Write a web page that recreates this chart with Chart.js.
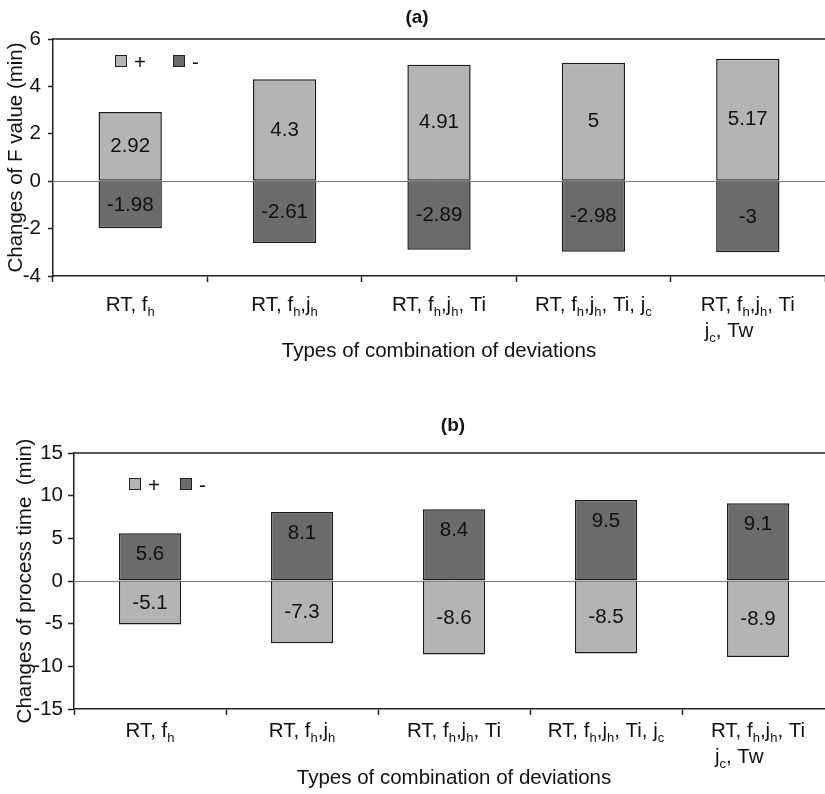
<!DOCTYPE html>
<html>
<head>
<meta charset="utf-8">
<script src="https://cdn.jsdelivr.net/npm/chart.js@4.4.0/dist/chart.umd.min.js"></script>
<style>
  html, body { margin: 0; padding: 0; background: #fff; overflow: hidden; }
  body { width: 825px; height: 794px; position: relative; }
  #boxA { position: absolute; left: 0; top: 0; width: 825px; height: 395px; }
  #boxB { position: absolute; left: 0; top: 395px; width: 840px; height: 399px; }
</style>
</head>
<body>
<div id="boxA"><canvas id="chartF"></canvas></div>
<div id="boxB"><canvas id="chartTime"></canvas></div>
<script>
// combinations of deviations, "_x" marks a subscript letter
const combos = [
  ['RT, f_h'],
  ['RT, f_h,j_h'],
  ['RT, f_h,j_h, Ti'],
  ['RT, f_h,j_h, Ti, j_c'],
  ['RT, f_h,j_h, Ti', 'j_c, Tw']
];

// (a) changes of F value (min)
const fPlus = [2.92, 4.3, 4.91, 5, 5.17];
const fMinus = [-1.98, -2.61, -2.89, -2.98, -3];

// (b) changes of process time (min)
const timePlus = [-5.1, -7.3, -8.6, -8.5, -8.9];
const timeMinus = [5.6, 8.1, 8.4, 9.5, 9.1];

const legendNames = ['+', '-'];
const LIGHT = '#b4b4b4';
const DARK = '#6b6b6b';
const INK = '#111';
const FONT = "'Liberation Sans', Arial, sans-serif";
const SIZE = 20.5;

Chart.defaults.font.family = FONT;
Chart.defaults.color = INK;

// draws "RT, f_h" style text with small lowered letters
function drawRich(ctx, text, x, y) {
  const parts = text.split(/_(\w)/);
  let cx = x;
  parts.forEach((p, i) => {
    const sub = i % 2 === 1;
    ctx.font = (sub ? 13 : SIZE) + 'px ' + FONT;
    ctx.fillText(p, cx, sub ? y + 7 : y);
    cx += ctx.measureText(p).width;
  });
}
function richWidth(ctx, text) {
  const parts = text.split(/_(\w)/);
  let w = 0;
  parts.forEach((p, i) => {
    ctx.font = (i % 2 === 1 ? 13 : SIZE) + 'px ' + FONT;
    w += ctx.measureText(p).width;
  });
  return w;
}

const panelDecor = {
  id: 'panelDecor',
  afterDraw(chart, args, opts) {
    const ctx = chart.ctx;
    const area = chart.chartArea;
    const xs = chart.scales.x;
    ctx.save();

    // frame line along the top of the plot
    ctx.strokeStyle = '#222';
    ctx.lineWidth = 1.5;
    ctx.beginPath();
    ctx.moveTo(area.left, area.top);
    ctx.lineTo(area.right, area.top);
    ctx.stroke();

    // panel title
    ctx.font = 'bold 19px ' + FONT;
    ctx.fillStyle = INK;
    ctx.textAlign = 'center';
    ctx.textBaseline = 'middle';
    ctx.fillText(opts.title, (area.left + area.right) / 2 + opts.titleDx, area.top + opts.titleDy);

    // legend inside the plot
    const ly = area.top + opts.legendY;
    chart.data.datasets.forEach((ds, i) => {
      const sx = area.left + opts.legendX + i * opts.legendGap;
      ctx.fillStyle = ds.backgroundColor;
      ctx.fillRect(sx, ly - 6, 12, 12);
      ctx.strokeStyle = '#222';
      ctx.lineWidth = 1;
      ctx.strokeRect(sx + 0.5, ly - 5.5, 11, 11);
      ctx.fillStyle = INK;
      ctx.font = SIZE + 'px ' + FONT;
      ctx.textAlign = 'left';
      ctx.fillText(ds.label, sx + 19, ly + 2);
    });

    // value labels on the bars
    ctx.font = SIZE + 'px ' + FONT;
    ctx.textAlign = 'center';
    ctx.textBaseline = 'middle';
    chart.data.datasets.forEach((ds, i) => {
      chart.getDatasetMeta(i).data.forEach((bar, j) => {
        const y = ds.valueAt === 'top' ? bar.y + 21 : (bar.y + bar.base) / 2;
        ctx.fillText(String(ds.data[j]), bar.x, y);
      });
    });

    // category labels with subscripts
    ctx.textAlign = 'left';
    ctx.textBaseline = 'middle';
    combos.forEach((lines, j) => {
      const cx = xs.getPixelForValue(j);
      const w = richWidth(ctx, lines[0]);
      const x0 = cx - w / 2;
      lines.forEach((line, k) => {
        drawRich(ctx, line, x0 + (k ? 4 : 0), area.bottom + opts.labelY + k * 26);
      });
    });
    ctx.restore();
  }
};

function makePanel(canvasId, plus, minus, cfg) {
  const ctx = document.getElementById(canvasId).getContext('2d');
  // the upward bar keeps its edge on the zero line, the downward one skips it
  const barStyle = values => ({
    borderColor: '#1a1a1a',
    borderWidth: 1.5,
    borderSkipped: values[0] > 0 ? false : 'start',
    barPercentage: 0.41,
    categoryPercentage: 1
  });
  const dsPlus = Object.assign({
    label: legendNames[0],
    data: plus,
    backgroundColor: LIGHT,
    valueAt: cfg.plusAt
  }, barStyle(plus));
  const dsMinus = Object.assign({
    label: legendNames[1],
    data: minus,
    backgroundColor: DARK,
    valueAt: cfg.minusAt
  }, barStyle(minus));

  return new Chart(ctx, {
    type: 'bar',
    data: {
      labels: combos.map(l => l.join(' ').replace(/_/g, '')),
      datasets: [dsPlus, dsMinus]
    },
    options: {
      responsive: true,
      maintainAspectRatio: false,
      animation: false,
      layout: { padding: { top: cfg.top, right: cfg.right, left: 0, bottom: 0 } },
      plugins: {
        legend: { display: false },
        tooltip: { enabled: false },
        panelDecor: cfg.decor
      },
      scales: {
        x: {
          stacked: true,
          afterFit: s => { s.height = cfg.xHeight; },
          ticks: { display: false },
          grid: {
            offset: true,
            drawOnChartArea: false,
            tickLength: 6,
            tickColor: '#222',
            tickWidth: 1.5
          },
          border: { color: '#222', width: 1.5 },
          title: {
            display: true,
            text: 'Types of combination of deviations',
            font: { size: SIZE },
            color: INK,
            padding: { top: 0, bottom: cfg.xTitlePad }
          }
        },
        y: {
          stacked: true,
          min: cfg.min,
          max: cfg.max,
          afterFit: s => { s.width = cfg.yWidth; },
          ticks: {
            stepSize: cfg.step,
            font: { size: SIZE },
            color: INK,
            padding: cfg.tickPad
          },
          grid: {
            drawOnChartArea: true,
            color: c => (c.tick && c.tick.value === 0 ? '#777' : 'rgba(0,0,0,0)'),
            lineWidth: 1,
            tickColor: '#222',
            tickWidth: 1.5,
            tickLength: cfg.tickLen
          },
          border: { color: '#222', width: 1.5 },
          title: {
            display: true,
            text: cfg.yTitle,
            font: { size: SIZE },
            color: INK,
            padding: { top: cfg.yTitlePad, bottom: 0 }
          }
        }
      }
    },
    plugins: [panelDecor]
  });
}

makePanel('chartF', fPlus, fMinus, {
  top: 39, right: 0, xHeight: 119, yWidth: 53,
  min: -4, max: 6, step: 2, tickPad: 7, tickLen: 5,
  yTitle: 'Changes of F value (min)', yTitlePad: 4, xTitlePad: 31,
  plusAt: 'center', minusAt: 'center',
  decor: { title: '(a)', titleDx: -22, titleDy: -21, legendX: 62, legendY: 22, legendGap: 58, labelY: 29 }
});

makePanel('chartTime', timePlus, timeMinus, {
  top: 58, right: 6, xHeight: 85, yWidth: 74,
  min: -15, max: 15, step: 5, tickPad: 5, tickLen: 6,
  yTitle: 'Changes of process time  (min)', yTitlePad: 13, xTitlePad: 3,
  plusAt: 'center', minusAt: 'top',
  decor: { title: '(b)', titleDx: -1, titleDy: -27, legendX: 55, legendY: 31, legendGap: 51, labelY: 22 }
});
</script>
</body>
</html>
